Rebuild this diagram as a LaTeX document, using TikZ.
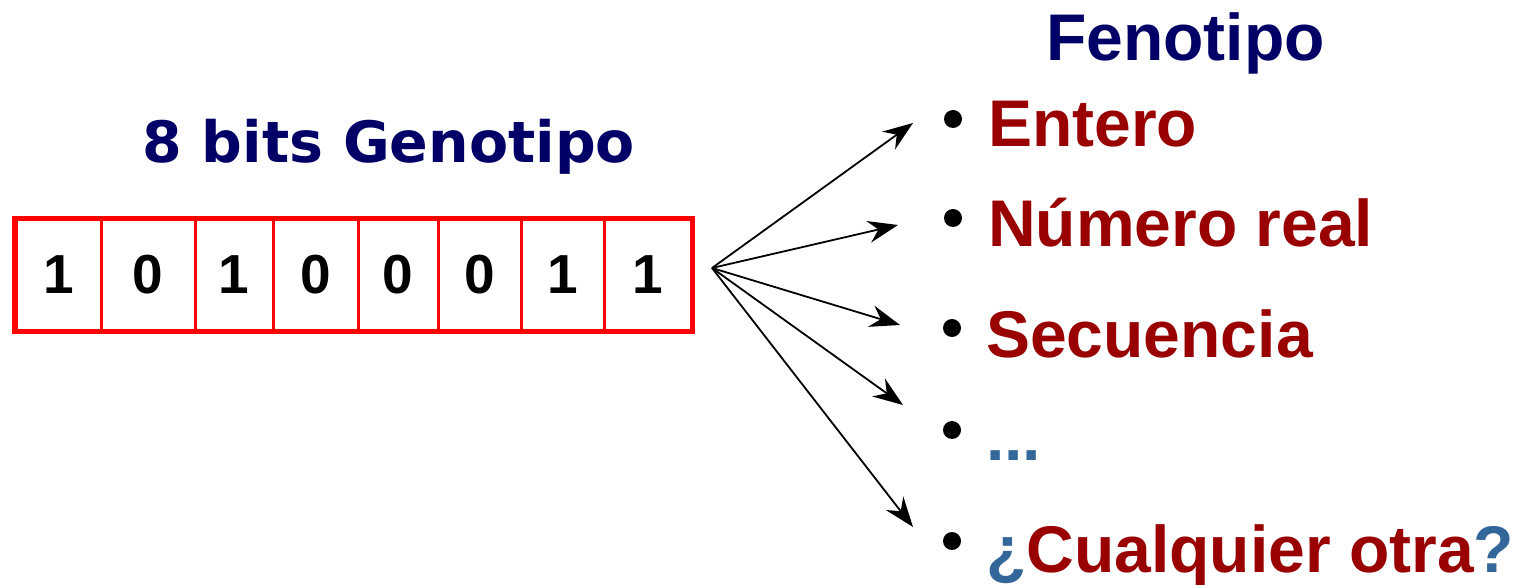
\documentclass[tikz,border=0pt]{standalone}
\usepackage{fontspec}
\usetikzlibrary{arrows.meta}
\newfontfamily\arialfont{Liberation Sans}
\newfontfamily\verdfont{DejaVu Sans}
\definecolor{navy}{HTML}{000066}
\definecolor{wine}{HTML}{990000}
\definecolor{steel}{HTML}{336699}
\definecolor{boxred}{HTML}{FF0000}
\tikzset{
  bitcell/.style={draw=boxred, line width=3pt, minimum height=110pt, inner sep=0pt,
    font=\arialfont\bfseries\fontsize{55}{60}\selectfont},
  item/.style={anchor=base west, inner sep=0pt, text=wine,
    font=\arialfont\bfseries\fontsize{66}{70}\selectfont},
  dot/.style={circle, fill=black, minimum size=18pt, inner sep=0pt},
  mapto/.style={-{Stealth[length=30pt,width=22pt,inset=10pt]}, line width=1.8pt, black}
}
\begin{document}
\begin{tikzpicture}[x=1pt,y=-1pt]
\useasboundingbox (0,0) rectangle (1534,585);

% genotype header
\node[anchor=base west, inner sep=0pt, text=navy,
  font=\verdfont\bfseries\fontsize{57}{60}\selectfont] (geno) at (142,163) {8 bits Genotipo};

% the eight bit cells
\node[bitcell, minimum width=85pt] (c1) at (58.5,275) {1};
\node[bitcell, minimum width=94pt] (c2) at (148,275) {0};
\node[bitcell, minimum width=78pt] (c3) at (234,275) {1};
\node[bitcell, minimum width=85pt] (c4) at (315.5,275) {0};
\node[bitcell, minimum width=80pt] (c5) at (398,275) {0};
\node[bitcell, minimum width=83pt] (c6) at (479.5,275) {0};
\node[bitcell, minimum width=83pt] (c7) at (562.5,275) {1};
\node[bitcell, minimum width=87pt] (c8) at (647.5,275) {1};
\draw[boxred, line width=4.5pt] (c1.north west) rectangle (c8.south east);

% phenotype header and list
\node[anchor=base west, inner sep=0pt, text=navy,
  font=\arialfont\bfseries\fontsize{66}{70}\selectfont] (feno) at (1046,61) {Fenotipo};

\node[dot] (b1) at (953,119) {};
\node[dot] (b2) at (953,218) {};
\node[dot] (b3) at (952,328) {};
\node[dot] (b4) at (952,430) {};
\node[dot] (b5) at (952,541) {};

\node[item] (i1) at (988,147) {Entero};
\node[item] (i2) at (988,247) {Número real};
\node[item] (i3) at (986,357) {Secuencia};
\node[item, text=steel] (i4) at (986,460) {...};
\node[item] (i5) at (986,572) {\textcolor{steel}{¿}Cualquier otra\textcolor{steel}{?}};

% mapping arrows
\coordinate (src) at (712,268);
\coordinate (t1) at (913,123);
\coordinate (t2) at (898,225);
\coordinate (t3) at (900,325);
\coordinate (t4) at (903,405);
\coordinate (t5) at (913,527);
\foreach \t in {t1,t2,t3,t4,t5} \draw[mapto] (src) -- (\t);
\end{tikzpicture}
\end{document}
